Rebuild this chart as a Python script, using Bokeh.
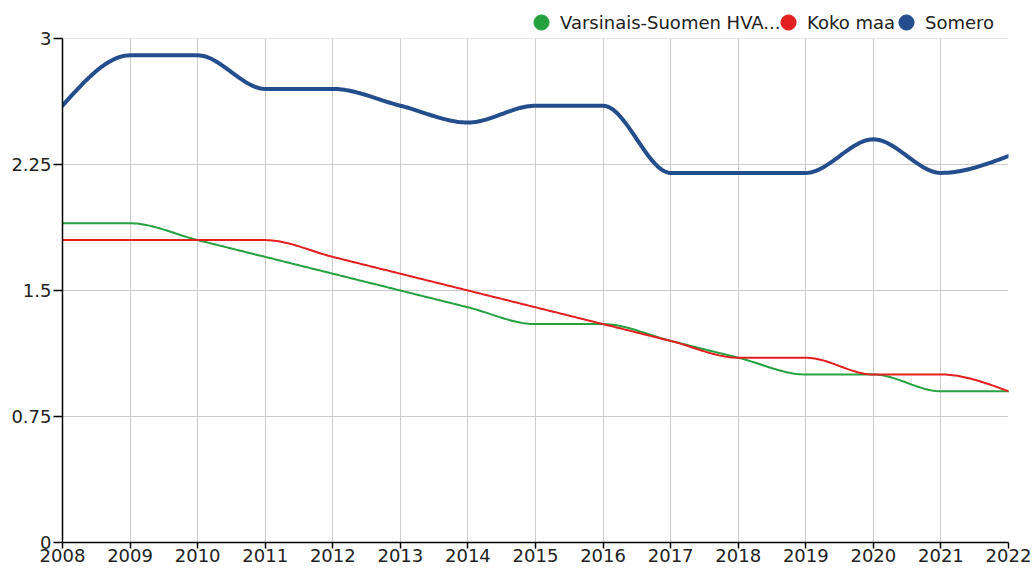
import numpy as np
from bokeh.plotting import figure
from bokeh.models import FixedTicker, Legend, LegendItem, Range1d, BoxAnnotation
from bokeh.embed import file_html
from bokeh.resources import INLINE

years = list(range(2008, 2023))
varsinais = [1.9, 1.9, 1.8, 1.7, 1.6, 1.5, 1.4, 1.3, 1.3, 1.2, 1.1, 1.0, 1.0, 0.9, 0.9]
koko_maa = [1.8, 1.8, 1.8, 1.8, 1.7, 1.6, 1.5, 1.4, 1.3, 1.2, 1.1, 1.1, 1.0, 1.0, 0.9]
somero = [2.6, 2.9, 2.9, 2.7, 2.7, 2.6, 2.5, 2.6, 2.6, 2.2, 2.2, 2.2, 2.4, 2.2, 2.3]
series_names = ["Varsinais-Suomen HVA...", "Koko maa", "Somero"]
y_ticks = [0, 0.75, 1.5, 2.25, 3]
y_tick_labels = ["0", "0.75", "1.5", "2.25", "3"]

FONT = "DejaVu Sans"


def monotone_curve(xs, ys, n=30):
    """Render-time monotone cubic (d3 curveMonotoneX style) through the data points."""
    x = np.asarray(xs, float)
    y = np.asarray(ys, float)
    m = len(x)
    h = np.diff(x)
    s = np.diff(y) / h
    t = np.zeros(m)
    for i in range(1, m - 1):
        h0, h1 = h[i - 1], h[i]
        s0, s1 = s[i - 1], s[i]
        p_ = (s0 * h1 + s1 * h0) / (h0 + h1)
        t[i] = (np.sign(s0) + np.sign(s1)) * min(abs(s0), abs(s1), 0.5 * abs(p_))
    t[0] = (3 * s[0] - t[1]) / 2
    t[-1] = (3 * s[-1] - t[-2]) / 2
    ox, oy = [], []
    for i in range(m - 1):
        u = np.linspace(0, 1, n, endpoint=(i == m - 2))
        dx = h[i]
        h00 = 2 * u**3 - 3 * u**2 + 1
        h10 = u**3 - 2 * u**2 + u
        h01 = -2 * u**3 + 3 * u**2
        h11 = u**3 - u**2
        ox.extend(x[i] + u * dx)
        oy.extend(h00 * y[i] + h10 * dx * t[i] + h01 * y[i + 1] + h11 * dx * t[i + 1])
    return ox, oy


Y_MAX = y_ticks[-1]
TOP_PAD = 38 / 168.0  # extra room above the axis top for the legend (in data units)

p = figure(width=1033, height=568, output_backend="svg", toolbar_location=None,
           x_range=Range1d(years[0], years[-1]), y_range=Range1d(0, Y_MAX + TOP_PAD),
           min_border_left=62, min_border_right=25, min_border_top=0, min_border_bottom=26)
p.outline_line_color = None
p.background_fill_color = "white"
p.border_fill_color = "white"

colors = ["#26a13f", "#e31f1f", "#234d8c"]
widths = [2, 2, 4]
data = [varsinais, koko_maa, somero]
legend_x = [460, 707, 825]  # screen offsets of the legend entries from the frame's left

# white mask above the top of the value axis (hides grid lines there)
p.add_layout(BoxAnnotation(bottom=Y_MAX, fill_color="white", fill_alpha=1,
                           line_alpha=0, level="underlay"))

for name, vals, c, w, lx in zip(series_names, data, colors, widths, legend_x):
    cx, cy = monotone_curve(years, vals)
    p.line(cx, cy, line_color=c, line_width=w, line_join="round", line_cap="round")
    dummy = p.scatter([years[0]], [vals[0]], size=15, color=c, visible=False)
    lg = Legend(items=[LegendItem(label=name, renderers=[dummy])],
                orientation="horizontal", location=(lx, 501),
                glyph_width=38, glyph_height=38, label_standoff=0, spacing=0,
                padding=0, margin=0, border_line_color=None, background_fill_alpha=0,
                label_text_font=FONT, label_text_font_size="18px",
                label_text_color="#222222")
    p.add_layout(lg, "center")

for ax in (p.xaxis, p.yaxis):
    ax.axis_line_color = "black"
    ax.axis_line_width = 1.5
    ax.major_tick_line_color = "black"
    ax.major_tick_line_width = 1.5
    ax.minor_tick_line_color = None
    ax.major_tick_in = 0
    ax.major_label_text_font = FONT
    ax.major_label_text_font_size = "18px"
    ax.major_label_text_color = "#222222"

p.xaxis.ticker = FixedTicker(ticks=years)
p.xaxis.major_tick_out = 6
p.xaxis.major_label_standoff = 0
p.yaxis.ticker = FixedTicker(ticks=y_ticks)
p.yaxis.major_label_overrides = {t: l for t, l in zip(y_ticks, y_tick_labels)}
p.yaxis.major_tick_out = 9
p.yaxis.major_label_standoff = 2
p.yaxis.bounds = (0, Y_MAX)

p.xgrid.ticker = FixedTicker(ticks=years)
p.ygrid.ticker = FixedTicker(ticks=y_ticks)
for g in (p.xgrid, p.ygrid):
    g.grid_line_color = "#cccccc"
    g.grid_line_width = 1

open("out.html", "w").write(file_html(p, INLINE))
